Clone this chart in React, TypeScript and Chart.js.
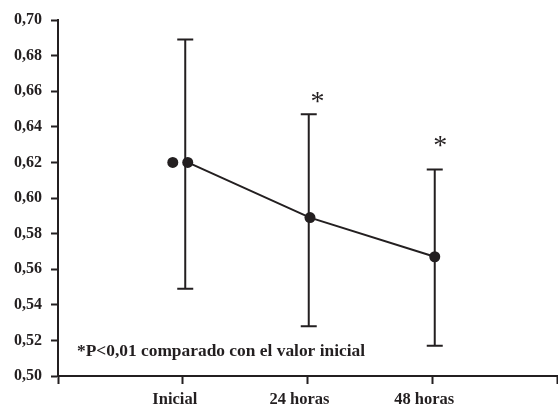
import React, { useEffect, useRef } from "react";
import { Chart, registerables } from "chart.js";

Chart.register(...registerables);

// ---- data ----
const categories = ["Inicial", "24 horas", "48 horas"];
const categoryPos = [1, 2, 3];
const meanValues = [0.62, 0.589, 0.567];
const lowerValues = [0.549, 0.528, 0.517];
const upperValues = [0.689, 0.647, 0.616];
const extraPointValues = [0.62];
const asteriskValues = [null, 0.6565, 0.632];
const yTickValues = [0.5, 0.52, 0.54, 0.56, 0.58, 0.6, 0.62, 0.64, 0.66, 0.68, 0.7];
const noteText = "*P<0,01 comparado con el valor inicial";

// ---- style / placement ----
const INK = "#231f20";
const pointShift = [0.04, 0.02, 0.02];
const barShift = [0.02, 0.01, 0.02];
const asteriskShift = [0, 0.08, 0.065];
const extraPointX = 0.92;
const notePos = { x: 0.152, y: 0.514 };
const noteFont = "bold 17.4px 'Liberation Serif', 'Times New Roman', serif";
const xLabelFont = { family: "'Liberation Serif', 'Times New Roman', serif", size: 16.5, weight: "bold" as const };
const yLabelFont = { family: "'Liberation Serif', 'Times New Roman', serif", size: 16, weight: "bold" as const };

const overlayPlugin = {
  id: "overlay",
  beforeDatasetsDraw(chart: any) {
    const { ctx, scales } = chart;
    const x = scales.x;
    const y = scales.y;
    ctx.save();
    ctx.strokeStyle = INK;
    ctx.lineWidth = 2;
    for (let i = 0; i < categoryPos.length; i++) {
      const px = x.getPixelForValue(categoryPos[i] + barShift[i]);
      const top = y.getPixelForValue(upperValues[i]);
      const bot = y.getPixelForValue(lowerValues[i]);
      ctx.beginPath();
      ctx.moveTo(px, top);
      ctx.lineTo(px, bot);
      ctx.moveTo(px - 8, top);
      ctx.lineTo(px + 8, top);
      ctx.moveTo(px - 8, bot);
      ctx.lineTo(px + 8, bot);
      ctx.stroke();
    }
    ctx.restore();
  },
  afterDatasetsDraw(chart: any) {
    const { ctx, scales } = chart;
    const x = scales.x;
    const y = scales.y;
    ctx.save();
    ctx.fillStyle = INK;
    // asterisks
    ctx.font = "28px 'Liberation Serif', 'Times New Roman', serif";
    ctx.textAlign = "left";
    ctx.textBaseline = "alphabetic";
    for (let i = 0; i < categoryPos.length; i++) {
      const v = asteriskValues[i];
      if (v == null) continue;
      const cx = x.getPixelForValue(categoryPos[i] + asteriskShift[i]);
      const cy = y.getPixelForValue(v);
      const m = ctx.measureText("*");
      const w = m.actualBoundingBoxRight + m.actualBoundingBoxLeft;
      const bx = cx - w / 2 + m.actualBoundingBoxLeft;
      const by = cy + (m.actualBoundingBoxAscent - m.actualBoundingBoxDescent) / 2;
      ctx.fillText("*", bx, by);
    }
    // note
    ctx.font = noteFont;
    ctx.textAlign = "left";
    ctx.textBaseline = "middle";
    ctx.fillText(noteText, x.getPixelForValue(notePos.x), y.getPixelForValue(notePos.y));
    ctx.restore();
  },
};

export default function App() {
  const ref = useRef<HTMLCanvasElement | null>(null);
  useEffect(() => {
    if (!ref.current) return;
    const chart = new Chart(ref.current, {
      type: "scatter",
      data: {
        datasets: [
          {
            data: categoryPos.map((p, i) => ({ x: p + pointShift[i], y: meanValues[i] })),
            showLine: true,
            borderColor: INK,
            borderWidth: 2,
            pointRadius: 5.5,
            pointHoverRadius: 5.5,
            pointBackgroundColor: INK,
            pointBorderColor: INK,
            pointBorderWidth: 0,
          },
          {
            data: extraPointValues.map((v) => ({ x: extraPointX, y: v })),
            showLine: false,
            pointRadius: 5.5,
            pointHoverRadius: 5.5,
            pointBackgroundColor: INK,
            pointBorderColor: INK,
            pointBorderWidth: 0,
          },
        ],
      },
      options: {
        animation: false,
        responsive: false,
        maintainAspectRatio: false,
        layout: { autoPadding: false, padding: { top: 20, right: 1, left: 0, bottom: 0 } },
        plugins: { legend: { display: false }, tooltip: { enabled: false } },
        scales: {
          x: {
            type: "linear",
            min: 0,
            max: 4,
            afterBuildTicks: (s: any) => {
              s.ticks = [0, 1, 2, 3, 4].map((v) => ({ value: v }));
            },
            afterFit: (s: any) => {
              s.height = 30;
              s.paddingLeft = 0;
              s.paddingRight = 0;
            },
            ticks: {
              autoSkip: false,
              maxRotation: 0,
              padding: 6,
              labelOffset: -8,
              color: INK,
              font: xLabelFont,
              callback: (v: any) => {
                const idx = categoryPos.indexOf(Number(v));
                return idx >= 0 ? categories[idx] : "";
              },
            },
            grid: { drawOnChartArea: false, tickLength: 8, tickColor: INK, tickWidth: 2 },
            border: { color: INK, width: 2 },
          },
          y: {
            type: "linear",
            min: 0.5,
            max: 0.7,
            afterBuildTicks: (s: any) => {
              s.ticks = yTickValues.map((v) => ({ value: v }));
            },
            afterFit: (s: any) => {
              s.width = 58;
            },
            ticks: {
              padding: 9,
              color: INK,
              font: yLabelFont,
              callback: (v: any) => Number(v).toFixed(2).replace(".", ","),
            },
            grid: { drawOnChartArea: false, tickLength: 7, tickColor: INK, tickWidth: 2 },
            border: { color: INK, width: 2 },
          },
        },
      },
      plugins: [overlayPlugin],
    });
    return () => chart.destroy();
  }, []);
  return (
    <div style={{ position: "absolute", left: 0, top: 0, width: 558, height: 406, background: "#fff" }}>
      <canvas ref={ref} width={558} height={406} style={{ display: "block" }} />
    </div>
  );
}
